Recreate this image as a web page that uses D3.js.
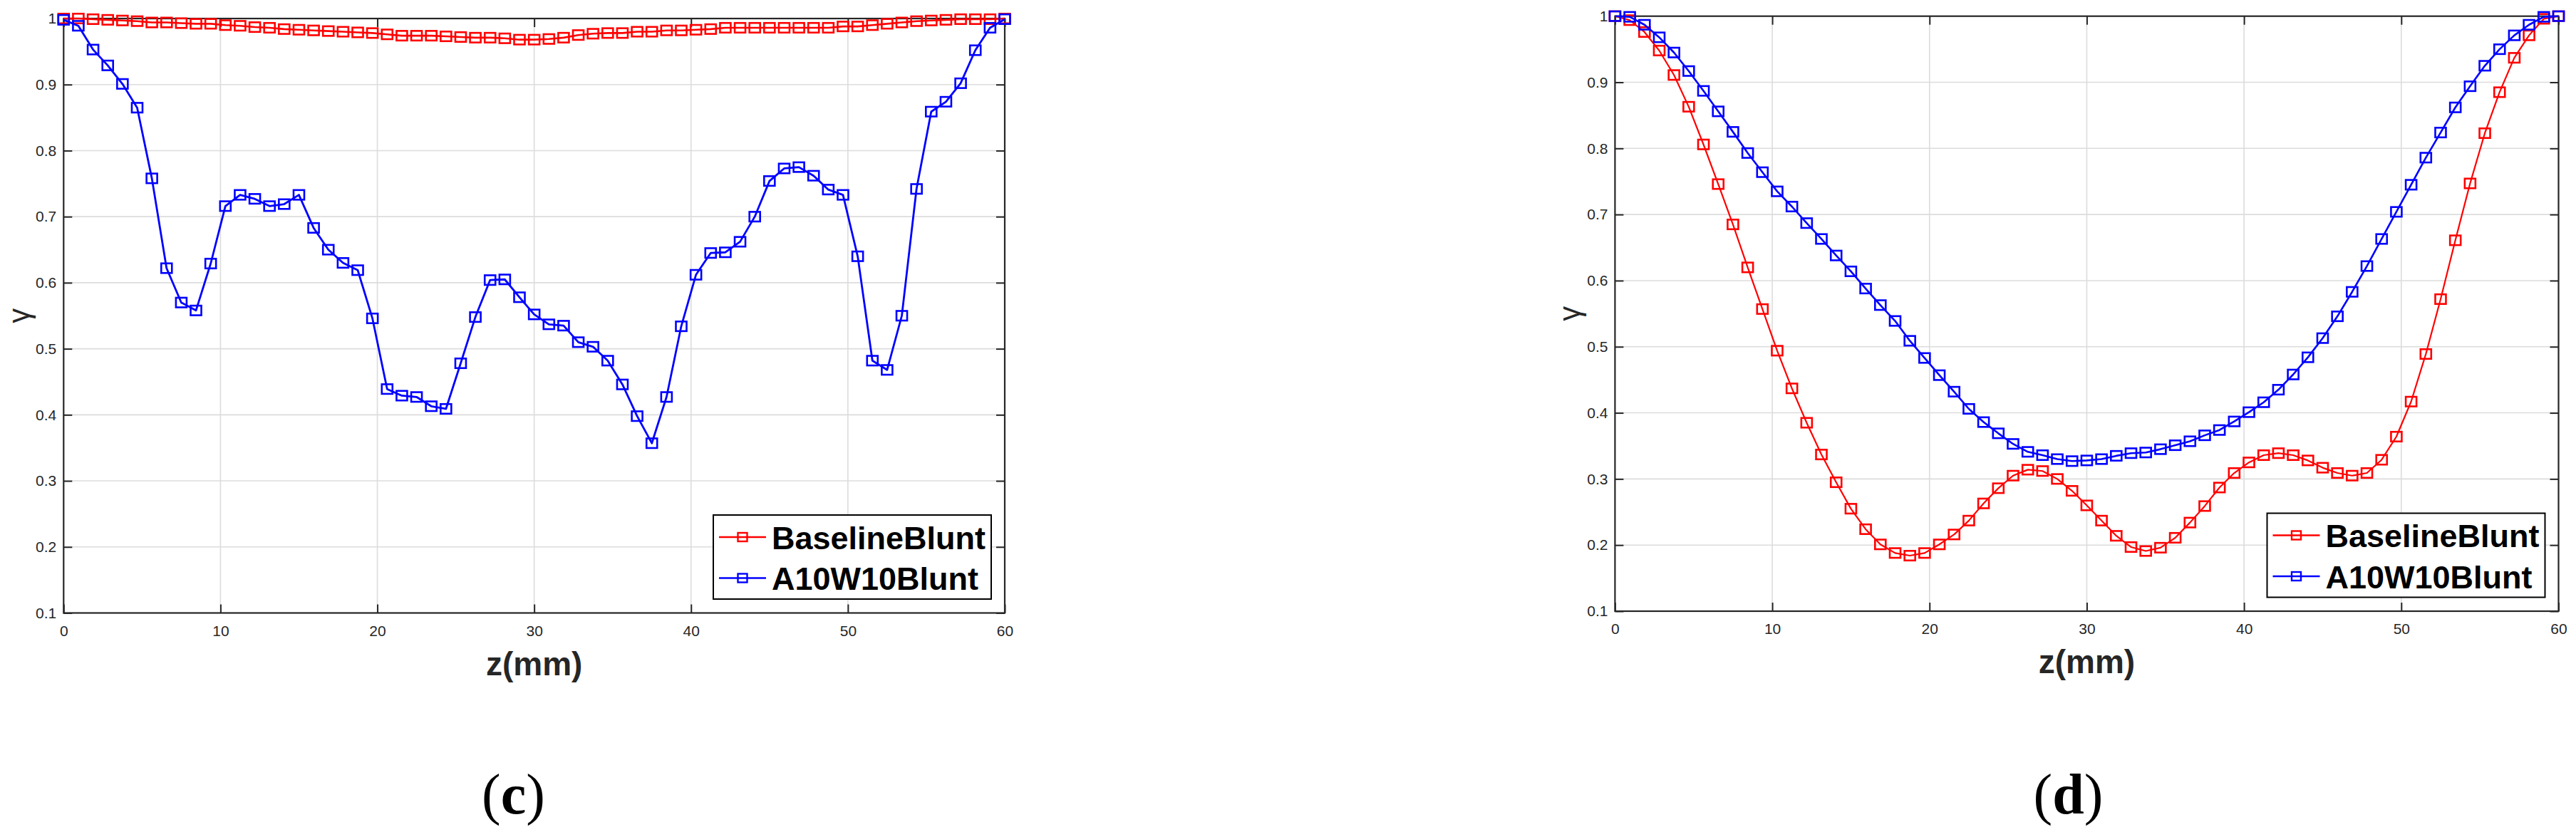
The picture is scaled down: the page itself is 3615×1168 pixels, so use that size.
<!DOCTYPE html>
<html>
<head>
<meta charset="utf-8">
<script src="https://cdn.jsdelivr.net/npm/d3@7"></script>
<style>
  html, body { margin: 0; padding: 0; background: #ffffff; }
  svg { display: block; }
</style>
</head>
<body>
<script>
// ---------------- DATA ----------------
const zValues = [0, 0.9375, 1.875, 2.8125, 3.75, 4.6875, 5.625, 6.5625, 7.5, 8.4375,
  9.375, 10.3125, 11.25, 12.1875, 13.125, 14.0625, 15, 15.9375, 16.875, 17.8125,
  18.75, 19.6875, 20.625, 21.5625, 22.5, 23.4375, 24.375, 25.3125, 26.25, 27.1875,
  28.125, 29.0625, 30, 30.9375, 31.875, 32.8125, 33.75, 34.6875, 35.625, 36.5625,
  37.5, 38.4375, 39.375, 40.3125, 41.25, 42.1875, 43.125, 44.0625, 45, 45.9375,
  46.875, 47.8125, 48.75, 49.6875, 50.625, 51.5625, 52.5, 53.4375, 54.375, 55.3125,
  56.25, 57.1875, 58.125, 59.0625, 60];

const seriesNames = ["BaselineBlunt", "A10W10Blunt"];

// panel (c)
const baselineC = [1.000, 1.000, 0.999, 0.998, 0.997, 0.996, 0.994, 0.994, 0.993, 0.992,
  0.992, 0.990, 0.989, 0.987, 0.986, 0.984, 0.983, 0.982, 0.981, 0.980,
  0.979, 0.978, 0.976, 0.974, 0.974, 0.974, 0.973, 0.972, 0.971, 0.971,
  0.970, 0.968, 0.968, 0.969, 0.971, 0.975, 0.977, 0.978, 0.978, 0.980,
  0.980, 0.982, 0.982, 0.983, 0.984, 0.986, 0.986, 0.986, 0.986, 0.986,
  0.986, 0.986, 0.986, 0.988, 0.988, 0.990, 0.992, 0.994, 0.996, 0.997,
  0.998, 0.999, 0.999, 0.999, 1.000];
const a10w10C = [0.998, 0.989, 0.953, 0.929, 0.901, 0.865, 0.758, 0.622, 0.570, 0.558,
  0.629, 0.716, 0.733, 0.727, 0.716, 0.719, 0.733, 0.683, 0.650, 0.630,
  0.619, 0.546, 0.439, 0.429, 0.427, 0.413, 0.409, 0.478, 0.548, 0.604,
  0.605, 0.578, 0.552, 0.537, 0.535, 0.510, 0.503, 0.482, 0.446, 0.398,
  0.357, 0.427, 0.534, 0.612, 0.645, 0.646, 0.662, 0.700, 0.754, 0.773,
  0.775, 0.762, 0.741, 0.733, 0.640, 0.482, 0.468, 0.550, 0.742, 0.859,
  0.874, 0.902, 0.952, 0.986, 0.999];

// panel (d)
const baselineD = [1.000, 0.994, 0.976, 0.948, 0.911, 0.863, 0.806, 0.746, 0.685, 0.620,
  0.557, 0.494, 0.437, 0.385, 0.337, 0.295, 0.255, 0.224, 0.201, 0.188,
  0.184, 0.188, 0.201, 0.216, 0.237, 0.263, 0.286, 0.305, 0.314, 0.312,
  0.300, 0.282, 0.260, 0.237, 0.214, 0.197, 0.191, 0.196, 0.211, 0.234,
  0.259, 0.287, 0.309, 0.325, 0.336, 0.339, 0.336, 0.328, 0.317, 0.309,
  0.305, 0.309, 0.329, 0.364, 0.417, 0.489, 0.572, 0.661, 0.747, 0.823,
  0.885, 0.937, 0.971, 0.996, 1.000];
const a10w10D = [1.000, 0.999, 0.987, 0.968, 0.945, 0.917, 0.887, 0.856, 0.825, 0.793,
  0.764, 0.735, 0.712, 0.687, 0.663, 0.638, 0.614, 0.588, 0.563, 0.539,
  0.509, 0.483, 0.457, 0.432, 0.406, 0.386, 0.369, 0.353, 0.341, 0.336,
  0.330, 0.327, 0.328, 0.330, 0.335, 0.339, 0.340, 0.345, 0.351, 0.357,
  0.366, 0.374, 0.387, 0.401, 0.416, 0.435, 0.458, 0.484, 0.513, 0.546,
  0.583, 0.622, 0.663, 0.704, 0.745, 0.786, 0.824, 0.862, 0.894, 0.925,
  0.950, 0.971, 0.987, 0.999, 1.000];

const xTicks = [0, 10, 20, 30, 40, 50, 60];
const yTicks = [0.1, 0.2, 0.3, 0.4, 0.5, 0.6, 0.7, 0.8, 0.9, 1];
const yTickLabels = ["0.1", "0.2", "0.3", "0.4", "0.5", "0.6", "0.7", "0.8", "0.9", "1"];
const xLabel = "z(mm)";
const yLabel = "γ";
const captions = ["c", "d"];

// ---------------- LAYOUT / STYLE ----------------
const W = 3615, H = 1168;
const colors = ["#ff0000", "#0000ff"];
const axisColor = "#262626";
const gridColor = "#dcdcdc";
const sansFont = "'Liberation Sans', Arial, Helvetica, sans-serif";
const serifFont = "'Liberation Serif', 'Times New Roman', serif";

const panels = [
  { left: 89.3, right: 1410, top: 26, bottom: 860.5, series: [baselineC, a10w10C],
    ylabX: 26, capX: 720.5, lineW: [2.6, 2.8] },
  { left: 2266.4, right: 3590.5, top: 22.7, bottom: 858, series: [baselineD, a10w10D],
    ylabX: 2202, capX: 2902.5, lineW: [2.2, 2.6] }
];

const svg = d3.select("body").append("svg")
  .attr("width", W).attr("height", H)
  .attr("viewBox", `0 0 ${W} ${H}`);

svg.append("rect").attr("width", W).attr("height", H).attr("fill", "#ffffff");

panels.forEach((p, pi) => {
  const x = d3.scaleLinear().domain([0, 60]).range([p.left, p.right]);
  const y = d3.scaleLinear().domain([0.1, 1]).range([p.bottom, p.top]);
  const g = svg.append("g");

  // grid
  g.append("g").selectAll("line.vg").data(xTicks.slice(1, -1)).join("line")
    .attr("x1", d => x(d)).attr("x2", d => x(d))
    .attr("y1", p.top).attr("y2", p.bottom)
    .attr("stroke", gridColor).attr("stroke-width", 1.6);
  g.append("g").selectAll("line.hg").data(yTicks.slice(1, -1)).join("line")
    .attr("x1", p.left).attr("x2", p.right)
    .attr("y1", d => y(d)).attr("y2", d => y(d))
    .attr("stroke", gridColor).attr("stroke-width", 1.6);

  // axes
  const tl = 12;
  const axB = g.append("g").attr("transform", `translate(0,${p.bottom})`)
    .call(d3.axisBottom(x).tickValues(xTicks).tickSizeInner(-tl).tickSizeOuter(0).tickPadding(17.5)
      .tickFormat(d3.format("d")));
  const axL = g.append("g").attr("transform", `translate(${p.left},0)`)
    .call(d3.axisLeft(y).tickValues(yTicks).tickSizeInner(-tl).tickSizeOuter(0).tickPadding(10)
      .tickFormat((d, i) => yTickLabels[i]));
  const axT = g.append("g").attr("transform", `translate(0,${p.top})`)
    .call(d3.axisTop(x).tickValues(xTicks).tickSizeInner(-tl).tickSizeOuter(0).tickFormat(""));
  const axR = g.append("g").attr("transform", `translate(${p.right},0)`)
    .call(d3.axisRight(y).tickValues(yTicks).tickSizeInner(-tl).tickSizeOuter(0).tickFormat(""));
  [axB, axL, axT, axR].forEach(a => {
    a.select(".domain").remove();
    a.selectAll(".tick line").attr("stroke", axisColor).attr("stroke-width", 2);
    a.selectAll(".tick text").attr("fill", axisColor)
      .style("font-family", sansFont).style("font-size", "21px");
  });
  g.append("rect").attr("x", p.left).attr("y", p.top)
    .attr("width", p.right - p.left).attr("height", p.bottom - p.top)
    .attr("fill", "none").attr("stroke", axisColor).attr("stroke-width", 2.2);

  // axis labels
  g.append("text").attr("x", (p.left + p.right) / 2).attr("y", p.bottom + 87)
    .attr("text-anchor", "middle").attr("fill", axisColor)
    .style("font-family", sansFont).style("font-size", "46px").style("font-weight", "bold")
    .text(xLabel);
  g.append("text")
    .attr("transform", `translate(${p.ylabX},${(p.top + p.bottom) / 2}) rotate(-90)`)
    .attr("text-anchor", "middle").attr("dominant-baseline", "central").attr("fill", axisColor)
    .style("font-family", sansFont).style("font-size", "42px")
    .text(yLabel);

  // data
  const line = d3.line().x((d, i) => x(zValues[i])).y(d => y(d));
  const mw = 15, mh = 13.5;
  p.series.forEach((vals, si) => {
    g.append("path").datum(vals).attr("d", line)
      .attr("fill", "none").attr("stroke", colors[si]).attr("stroke-width", p.lineW[si])
      .attr("stroke-linejoin", "round");
    g.append("g").selectAll("rect").data(vals).join("rect")
      .attr("x", (d, i) => x(zValues[i]) - mw / 2).attr("y", d => y(d) - mh / 2)
      .attr("width", mw).attr("height", mh)
      .attr("fill", "none").attr("stroke", colors[si]).attr("stroke-width", 2.6);
  });

  // legend
  const lw = 390, lh = 118;
  const lx = p.right - 19 - lw, ly = p.bottom - 19.5 - lh;
  const lg = g.append("g").attr("transform", `translate(${lx},${ly})`);
  lg.append("rect").attr("width", lw).attr("height", lh)
    .attr("fill", "#ffffff").attr("stroke", "#000000").attr("stroke-width", 2);
  seriesNames.forEach((name, si) => {
    const cy = 31 + si * 57.5;
    lg.append("line").attr("x1", 8).attr("x2", 74).attr("y1", cy).attr("y2", cy)
      .attr("stroke", colors[si]).attr("stroke-width", 2.4);
    lg.append("rect").attr("x", 41 - 6.5).attr("y", cy - 6).attr("width", 13).attr("height", 12)
      .attr("fill", "none").attr("stroke", colors[si]).attr("stroke-width", 2.4);
    lg.append("text").attr("x", 82).attr("y", cy + 16.5)
      .attr("fill", "#000000")
      .style("font-family", sansFont).style("font-size", "45px").style("font-weight", "bold")
      .text(name);
  });

  // caption
  const cap = svg.append("text").attr("x", p.capX).attr("y", 1142)
    .attr("text-anchor", "middle").attr("fill", "#000000")
    .style("font-family", serifFont).style("font-size", "80px");
  cap.append("tspan").text("(");
  cap.append("tspan").style("font-weight", "bold").text(captions[pi]);
  cap.append("tspan").text(")");
});
</script>
</body>
</html>
